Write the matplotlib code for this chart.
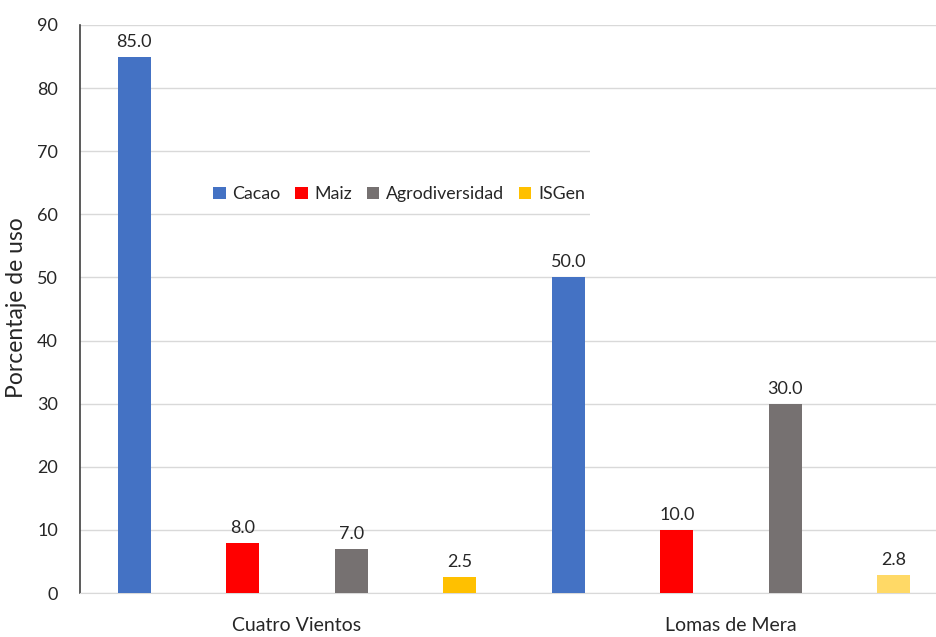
import matplotlib.pyplot as plt
from matplotlib.patches import Rectangle
import numpy as np

plt.rcParams['font.family'] = ['Lato', 'DejaVu Sans']

sitios = ["Cuatro Vientos", "Lomas de Mera"]
series = ["Cacao", "Maiz", "Agrodiversidad", "ISGen"]
cacao = [85.0, 50.0]
maiz = [8.0, 10.0]
agro = [7.0, 30.0]
isgen = [2.5, 2.8]
yticks = [0, 10, 20, 30, 40, 50, 60, 70, 80, 90]

colors = {
    "Cacao": ["#4472C4", "#4472C4"],
    "Maiz": ["#FF0000", "#FF0000"],
    "Agrodiversidad": ["#767171", "#767171"],
    "ISGen": ["#FFC000", "#FFD966"],
}

fig = plt.figure(figsize=(9.36, 6.37), dpi=100)
W, H = 936, 637
ax = fig.add_axes([80 / W, 44 / H, 868 / W, 568 / H])

x = np.arange(len(sitios))
width = 0.077
offsets = [-0.375, -0.125, 0.125, 0.375]
data = [cacao, maiz, agro, isgen]

for i, name in enumerate(series):
    bars = ax.bar(x + offsets[i], data[i], width, color=colors[name], label=name, zorder=3)
    for b, v in zip(bars, data[i]):
        ax.annotate("%.1f" % v, (b.get_x() + b.get_width() / 2, v),
                    xytext=(0, 5), textcoords="offset points",
                    ha="center", va="bottom", fontsize=13, color="#262626")

ax.set_xlim(-0.5, 1.5)
ax.set_ylim(0, 90)
ax.set_yticks(yticks)
ax.set_xticks(x)
ax.set_xticklabels(sitios)
ax.tick_params(axis="both", length=0, labelsize=13, labelcolor="#262626")
ax.tick_params(axis="y", pad=16)
ax.tick_params(axis="x", pad=17, labelsize=14)

ax.grid(axis="y", color="#D9D9D9", linewidth=1, zorder=0)
ax.set_axisbelow(True)
for s in ["top", "right"]:
    ax.spines[s].set_visible(False)
ax.spines["bottom"].set_color("#D9D9D9")
ax.spines["left"].set_color("#404040")
ax.spines["left"].set_linewidth(1.2)

ax.set_ylabel("Porcentaje de uso", fontsize=16.5, color="#262626")
ax.yaxis.set_label_coords(-0.061, 0.502)

# white box hiding gridlines on the right of the legend
fig.patches.append(Rectangle((590 / W, (H - 217) / H), (W - 590) / W, 71 / H,
                             transform=fig.transFigure, facecolor="white",
                             edgecolor="none", zorder=2))

leg = fig.legend(loc="center", bbox_to_anchor=(399 / W, (H - 194) / H), ncol=4,
                 frameon=False, fontsize=12.8, handlelength=0.7, handleheight=0.7,
                 handletextpad=0.4, columnspacing=0.8)
for t in leg.get_texts():
    t.set_color("#262626")

fig.savefig("out.png", dpi=100)
